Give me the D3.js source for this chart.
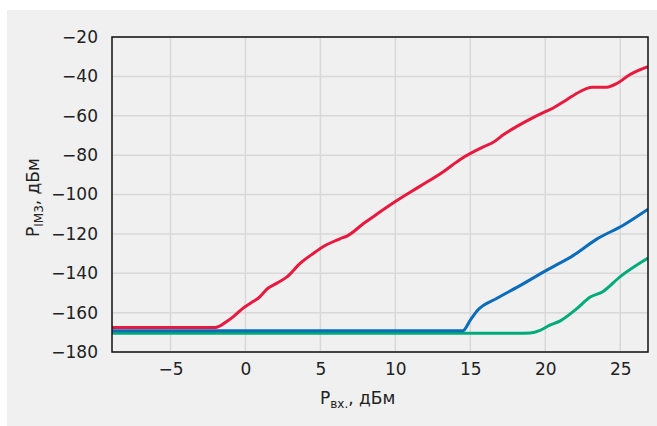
<!DOCTYPE html>
<html>
<head>
<meta charset="utf-8">
<script src="https://cdn.jsdelivr.net/npm/d3@7"></script>
<style>
  body { margin: 0; background: #fff; }
  text { font-family: "DejaVu Sans", sans-serif; fill: #222; }
</style>
</head>
<body>
<script>
// IM3 power vs input power, three curves
var xTicks = [-5, 0, 5, 10, 15, 20, 25];
var yTicks = [-180, -160, -140, -120, -100, -80, -60, -40, -20];

var redX = [-8.9, -2.0, -1.25, -0.8, -0.15, 0.5, 0.85, 1.5, 2.1, 2.75, 3.65, 4.55, 5.2, 6.3, 6.8, 7.9, 8.8, 10.0, 11.6, 13.2, 14.3, 15.9, 16.5, 17.2, 18.8, 20.0, 20.5, 21.4, 22.3, 23.1, 24.1, 24.8, 25.6, 26.85];
var redY = [-167.5, -167.5, -164.5, -162, -157.7, -154.4, -152.7, -147.6, -145, -142, -135, -129.8, -126.4, -122.5, -121, -114.6, -109.8, -103.6, -96, -88.4, -82.3, -75.7, -73.6, -69.7, -62.5, -57.9, -56.2, -52, -47.8, -45.5, -45.5, -43.5, -39.3, -35.1];

var blueX = [-8.9, 14.5, 15.0, 15.5, 16.75, 18.1, 20.1, 21.9, 23.4, 25.2, 26.85];
var blueY = [-169.2, -169.2, -163.8, -158.7, -152.8, -147.2, -138.4, -130.8, -122.8, -115.6, -107.5];

var greenX = [-8.9, 18.1, 19.0, 19.65, 20.3, 21.0, 22.1, 23.0, 23.8, 25.0, 26.85];
var greenY = [-170.5, -170.5, -170.3, -169, -166.4, -164.2, -158, -152.1, -149.5, -141.7, -132.3];

var width = 657, height = 426;
var mLeft = 112, mRight = 648, mTop = 37, mBottom = 352;

var svg = d3.select("body").append("svg")
    .attr("width", width)
    .attr("height", height);

svg.append("rect")
    .attr("x", 7).attr("y", 10)
    .attr("width", width - 7).attr("height", height - 10)
    .style("fill", "#f0f0f0");

var x = d3.scaleLinear().domain([-8.9, 26.85]).range([mLeft, mRight]);
var y = d3.scaleLinear().domain([-180, -20]).range([mBottom, mTop]);

// grid
svg.append("g").selectAll("line")
    .data(xTicks).enter().append("line")
    .attr("x1", function (d) { return x(d); })
    .attr("x2", function (d) { return x(d); })
    .attr("y1", mTop).attr("y2", mBottom)
    .style("stroke", "#d8d8d8").style("stroke-width", 1.5);

svg.append("g").selectAll("line")
    .data(yTicks).enter().append("line")
    .attr("y1", function (d) { return y(d); })
    .attr("y2", function (d) { return y(d); })
    .attr("x1", mLeft).attr("x2", mRight)
    .style("stroke", "#d8d8d8").style("stroke-width", 1.5);

// axes (labels only, frame drawn separately)
var xAxis = svg.append("g")
    .attr("transform", "translate(0," + mBottom + ")")
    .call(d3.axisBottom(x).tickValues(xTicks).tickSize(0).tickPadding(11));
var yAxis = svg.append("g")
    .attr("transform", "translate(" + mLeft + ",0)")
    .call(d3.axisLeft(y).tickValues(yTicks).tickSize(0).tickPadding(14));
[xAxis, yAxis].forEach(function (a) {
    a.select(".domain").remove();
    a.selectAll("text")
        .style("font-family", "'DejaVu Sans', sans-serif")
        .style("font-size", "17px")
        .style("fill", "#222");
});

svg.append("clipPath").attr("id", "plot")
    .append("rect")
    .attr("x", mLeft).attr("y", mTop)
    .attr("width", mRight - mLeft).attr("height", mBottom - mTop);

var line = d3.line()
    .x(function (d) { return x(d[0]); })
    .y(function (d) { return y(d[1]); })
    .curve(d3.curveMonotoneX);

var series = [
    {xs: greenX, ys: greenY, color: "#00ab7a"},
    {xs: blueX, ys: blueY, color: "#0b6dba"},
    {xs: redX, ys: redY, color: "#e8193e"}
];

svg.append("g").attr("clip-path", "url(#plot)")
    .selectAll("path")
    .data(series).enter().append("path")
    .attr("d", function (s) { return line(d3.zip(s.xs, s.ys)); })
    .style("fill", "none")
    .style("stroke", function (s) { return s.color; })
    .style("stroke-width", 3)
    .style("stroke-linejoin", "round");

// frame
svg.append("rect")
    .attr("x", mLeft).attr("y", mTop)
    .attr("width", mRight - mLeft).attr("height", mBottom - mTop)
    .style("fill", "none").style("stroke", "#111").style("stroke-width", 1.5);

// axis titles
var xt = svg.append("text")
    .attr("x", 320).attr("y", 404)
    .style("font-size", "17px");
xt.append("tspan").text("P");
xt.append("tspan").attr("dy", 4).style("font-size", "12px").text("вх.");
xt.append("tspan").attr("dy", -4).text(", дБм");

var yt = svg.append("text")
    .attr("transform", "translate(39,237) rotate(-90)")
    .style("font-size", "17px");
yt.append("tspan").text("P");
yt.append("tspan").attr("dy", 4).style("font-size", "12px").text("IM3");
yt.append("tspan").attr("dy", -4).text(", дБм");
</script>
</body>
</html>
